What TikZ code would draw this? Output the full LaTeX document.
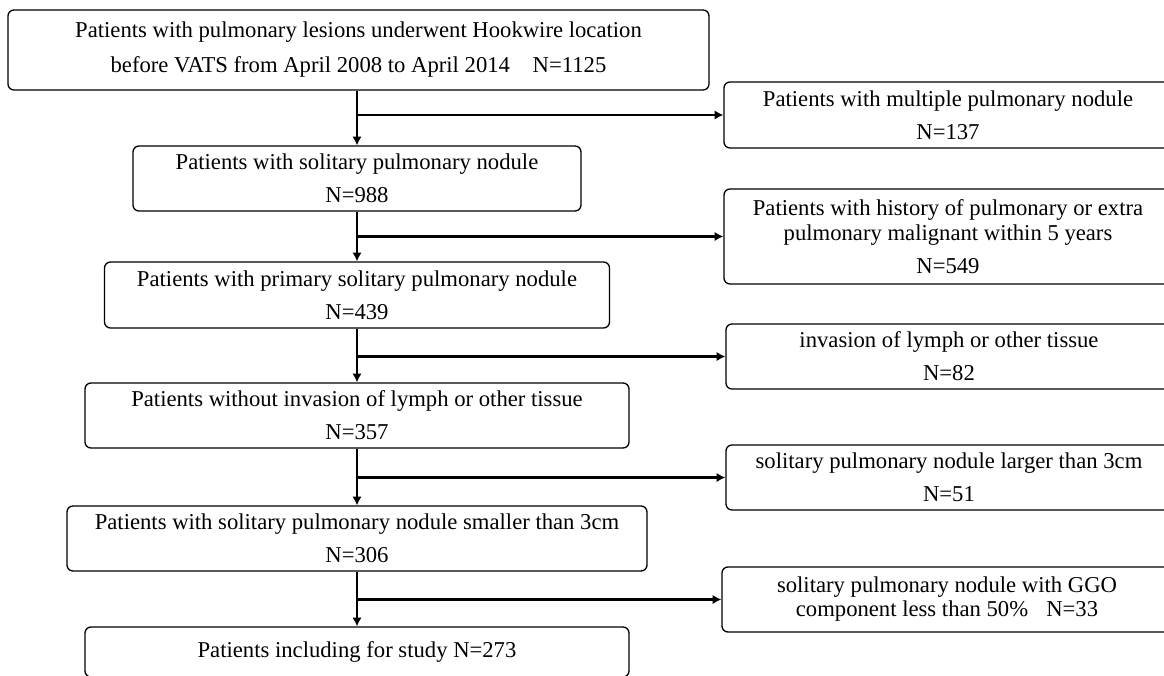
\documentclass[tikz,border=0pt]{standalone}
\usepackage{fontspec}
\setmainfont{Liberation Serif}
\usetikzlibrary{arrows.meta}

\begin{document}
\begin{tikzpicture}[x=0.75pt, y=-0.75pt]
        \tikzstyle{box} = [rectangle, draw, rounded corners=4.5pt, line width=1pt, inner sep=0pt, align=center, font=\fontsize{17}{24.75}\selectfont]
        \tikzstyle{flow} = [-{Latex[length=6.5pt, width=7pt]}, line width=1.8pt]

\useasboundingbox (0,0) rectangle (1164,675);
        \clip (0,0) rectangle (1164,675);

% main column
        \node[box, minimum width=525.75pt, minimum height=60pt, font=\fontsize{17}{26.25}\selectfont] (start) at (358.5,50) {Patients with pulmonary lesions underwent Hookwire location\\ before VATS from April 2008 to April 2014\quad N=1125};
        \node[box, minimum width=336pt, minimum height=48.75pt] (solitary) at (357,178.5) {Patients with solitary pulmonary nodule\\ N=988};
        \node[box, minimum width=378.75pt, minimum height=49.5pt] (primary) at (357,295) {Patients with primary solitary pulmonary nodule\\ N=439};
        \node[box, minimum width=408pt, minimum height=48.75pt] (noinvasion) at (357,415.5) {Patients without invasion of lymph or other tissue\\ N=357};
        \node[box, minimum width=435pt, minimum height=48.75pt] (smaller) at (357,538.5) {Patients with solitary pulmonary nodule smaller than 3cm\\ N=306};
        \node[box, minimum width=408pt, minimum height=37.5pt] (included) at (357,652) {Patients including for study N=273};

% excluded column
        \node[box, minimum width=336pt, minimum height=49.5pt] (multiple) at (948,115) {Patients with multiple pulmonary nodule\\ N=137};
        \node[box, minimum width=336pt, minimum height=71.25pt, font=\fontsize{17}{18.75}\selectfont] (history) at (948,236.5) {Patients with history of pulmonary or extra\\ pulmonary malignant within 5 years\\[6pt] N=549};
        \node[box, minimum width=334.5pt, minimum height=48.75pt] (invasion) at (949,356.5) {invasion of lymph or other tissue\\ N=82};
        \node[box, minimum width=334.5pt, minimum height=48.75pt] (larger) at (949,477.5) {solitary pulmonary nodule larger than 3cm\\ N=51};
        \node[box, minimum width=337.5pt, minimum height=48.75pt, font=\fontsize{17}{18}\selectfont] (ggo) at (947,599.5) {solitary pulmonary nodule with GGO\\ component less than 50\%\hspace{0.8em}N=33};

\draw[flow] (start.south -| solitary.north) -- (solitary.north);
        \draw[flow] (solitary.south) -- (primary.north);
        \draw[flow] (primary.south) -- (noinvasion.north);
        \draw[flow] (noinvasion.south) -- (smaller.north);
        \draw[flow] (smaller.south) -- (included.north);

\draw[flow] (solitary.north |- multiple.west) -- (multiple.west);
        \draw[flow] (solitary.north |- history.west) -- (history.west);
        \draw[flow] (solitary.north |- invasion.west) -- (invasion.west);
        \draw[flow] (solitary.north |- larger.west) -- (larger.west);
        \draw[flow] (solitary.north |- ggo.west) -- (ggo.west);

    \end{tikzpicture}
\end{document}
